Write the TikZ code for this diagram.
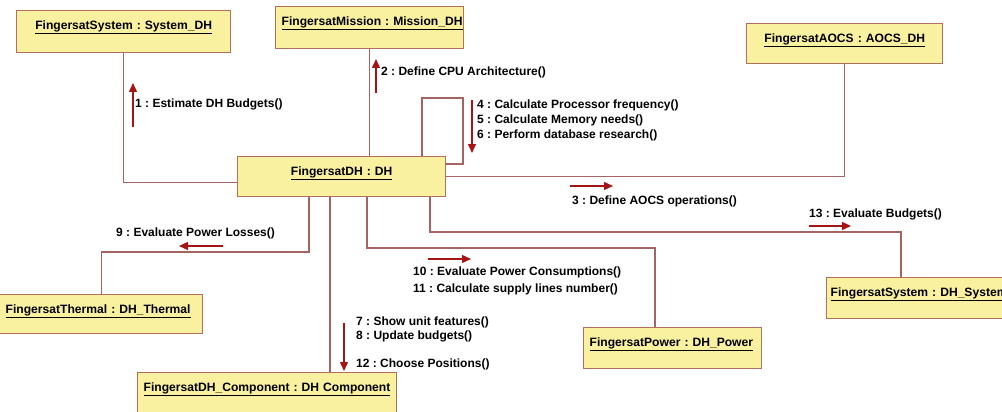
\documentclass[tikz,border=0pt]{standalone}
\usepackage{fontspec}
\setmainfont{Liberation Sans}
\usetikzlibrary{arrows.meta}
\definecolor{boxfill}{RGB}{250,241,160}
\definecolor{boxdraw}{RGB}{176,112,92}
\definecolor{linecol}{RGB}{165,100,100}
\definecolor{arrowcol}{RGB}{165,20,20}
\frenchspacing
\begin{document}
\begin{tikzpicture}[x=1pt,y=-1pt,
  obj/.style={draw=boxdraw, fill=boxfill, line width=1.4pt, anchor=north west,
    inner xsep=6pt, inner ysep=4pt, text height=15pt,
    font=\fontsize{12.1}{13}\selectfont\bfseries},
  conn/.style={draw=linecol, line width=1.4pt},
  msg/.style={font=\fontsize{12}{15}\selectfont\bfseries, inner sep=0pt, align=left},
  marrow/.style={draw=arrowcol, line width=1.4pt, -{Triangle[length=9pt,width=8pt]}}]
\useasboundingbox (0,0) rectangle (1002,412);
% objects
\node[obj, text width=202pt, align=center, text depth=19pt] (sys) at (16,10) {\underline{FingersatSystem : System\_DH}};
\node[obj, text width=176pt, align=left, text depth=19pt] (mis) at (275,6) {\underline{FingersatMission : Mission\_DH}};
\node[obj, text width=184pt, align=center, text depth=17pt] (aocs) at (746,23) {\underline{FingersatAOCS : AOCS\_DH}};
\node[obj, text width=196pt, align=center, text depth=17pt] (dh) at (237,156) {\underline{FingersatDH : DH}};
\node[obj, text width=191pt, align=left, text depth=16pt] (therm) at (-1,294) {\underline{FingersatThermal : DH\_Thermal}};
\node[obj, text width=247pt, align=left, text depth=19pt] (comp) at (137,372) {\underline{FingersatDH\_Component : DH Component}};
\node[obj, text width=166pt, align=left, text depth=18pt] (pow) at (583,327) {\underline{FingersatPower : DH\_Power}};
\node[obj, inner xsep=4pt, text width=182pt, align=left, text depth=18pt] (dhs) at (826,277) {\underline{FingersatSystem : DH\_System}};
% connectors
\draw[conn] (sys.south) |- ([yshift=-6pt]dh.west);
\draw[conn] (mis.south) -- (mis.south |- dh.north);
\coordinate (l1) at (422,98);
\coordinate (l2) at (463,164);
\draw[conn] (l1 |- dh.north) -- (l1) -| (l2) -- (l2 -| dh.east);
\draw[conn] (aocs.south) |- (dh.east);
\coordinate (s1) at (430,232);
\coordinate (s2) at (901,232);
\draw[conn] (s1 |- dh.south) -- (s1) -- (s2) -- (s2 |- dhs.north);
\coordinate (t1) at (309,252);
\draw[conn] (t1 |- dh.south) -- (t1) -- (t1 -| therm.north) -- (therm.north);
\coordinate (c1) at (330,300);
\draw[conn] (c1 |- dh.south) -- (c1 |- comp.north);
\coordinate (p1) at (367,248);
\coordinate (p2) at (655,248);
\draw[conn] (p1 |- dh.south) -- (p1) -- (p2) -- (p2 |- pow.north);
% messages
\node[msg, anchor=west] (m1) at (135,104) {1 : Estimate DH Budgets()};
\draw[marrow] (133,127) -- (133,83);
\node[msg, anchor=west] (m2) at (381,72) {2 : Define CPU Architecture()};
\draw[marrow] (376,93) -- (376,59);
\node[msg, anchor=north west] (m4) at (477,99.5) {4 : Calculate Processor frequency()\\5 : Calculate Memory needs()\\6 : Perform database research()};
\draw[marrow] (472,100) -- (472,153);
\node[msg, anchor=west] (m3) at (572,201) {3 : Define AOCS operations()};
\draw[marrow] (570,186) -- (613,186);
\node[msg, anchor=west] (m13) at (809,214) {13 : Evaluate Budgets()};
\draw[marrow] (809,226) -- (851,226);
\node[msg, anchor=west] (m9) at (116,233) {9 : Evaluate Power Losses()};
\draw[marrow] (223,246) -- (179,246);
\node[msg, anchor=north west, font=\fontsize{12}{17}\selectfont\bfseries] (m10) at (413,266.5) {10 : Evaluate Power Consumptions()\\11 : Calculate supply lines number()};
\draw[marrow] (428,259) -- (471,259);
\node[msg, anchor=north west, font=\fontsize{12}{14}\selectfont\bfseries] (m7) at (356,316.5) {7 : Show unit features()\\8 : Update budgets()\\[14pt]12 : Choose Positions()};
\draw[marrow] (344,323) -- (344,371);
\end{tikzpicture}
\end{document}
